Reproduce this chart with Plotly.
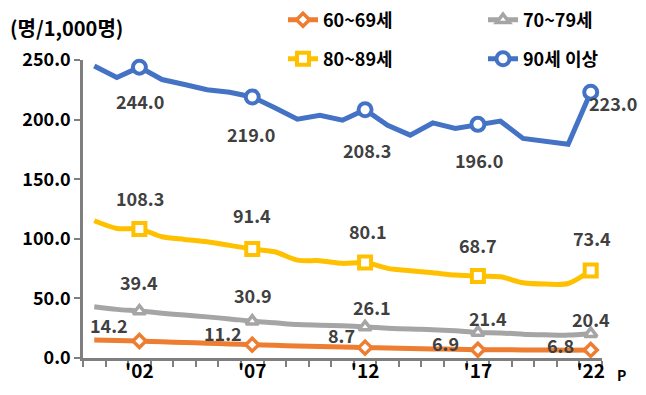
import plotly.graph_objects as go

# 연령대별 사망률 (명/1,000명), 2000~2022
years = list(range(2000, 2023))
label_years = [2002, 2007, 2012, 2017, 2022]
tick_labels = ["'02", "'07", "'12", "'17", "'22"]

age_60s = [15.1, 14.6, 14.2, 13.6, 13.0, 12.4, 11.8, 11.2, 10.6, 10.1, 9.6, 9.2,
           8.7, 8.3, 7.9, 7.6, 7.3, 6.9, 6.9, 6.8, 6.7, 6.6, 6.8]
age_70s = [43.0, 40.8, 39.4, 37.6, 36.0, 34.5, 32.8, 30.9, 29.5, 28.0, 27.5, 27.0,
           26.1, 25.0, 24.3, 23.8, 22.8, 21.4, 21.0, 20.0, 19.5, 19.2, 20.4]
age_80s = [115.1, 108.7, 108.3, 101.7, 99.5, 97.5, 94.5, 91.4, 89.1, 82.1, 81.6, 79.4,
           80.1, 75.2, 73.2, 71.5, 69.6, 68.7, 68.2, 63.1, 62.0, 62.5, 73.4]
age_90s = [245.0, 235.3, 244.0, 233.6, 229.5, 225.0, 223.0, 219.0, 210.0, 200.3, 203.7, 199.5,
           208.3, 195.3, 187.0, 197.2, 192.5, 196.0, 198.7, 184.2, 181.3, 179.4, 223.0]

names = ["60~69세", "70~79세", "80~89세", "90세 이상"]
series = [age_60s, age_70s, age_80s, age_90s]
colors = ["#ED7D31", "#A5A5A5", "#FFC000", "#4472C4"]
symbols = ["diamond", "triangle-up", "square", "circle"]
msizes = [10, 11, 12, 13]
mlines = [3.5, 3.5, 4, 4]
shapes = ["spline", "spline", "spline", "linear"]
legends = ["legend", "legend2", "legend3", "legend4"]
# px (screen): left edge, row centre
legend_pos = [(283, 20), (483, 20), (283, 59), (483, 59)]
# label offsets (px) per labelled point
offsets = [
    [(-30, 16), (-29, 12), (-24, 13), (-32, 7), (-30, 5)],
    [(0, 29), (1, 26), (7, 20), (10, 14), (0, 15)],
    [(1, 31), (0, 34), (3, 32), (0, 31), (1, 33)],
    [(1, -34), (-1, -37), (2, -40), (1, -36), (22, -11)],
]

# page body has an 8px margin, so the figure sits at (8, 8) on screen
OFF = 8
W, H = 646, 395
plot_left, plot_right, plot_top, plot_bottom = 83, 602, 60, 358  # screen px
L = plot_left - OFF
R = W - (plot_right - OFF)
T = plot_top - OFF
B = H - (plot_bottom - OFF)
plot_w, plot_h = W - L - R, H - T - B


def px_x(p):
    return (p - plot_left) / plot_w


def px_y(p):
    return (plot_bottom - p) / plot_h


font = dict(family="Noto Sans CJK KR", weight="bold")

fig = go.Figure()
annotations = []
for name, vals, col, sym, ms, ml, shp, lg, offs in zip(
        names, series, colors, symbols, msizes, mlines, shapes, legends, offsets):
    fig.add_trace(go.Scatter(x=years, y=vals, mode="lines", showlegend=False,
                             line=dict(color=col, width=5, shape=shp, smoothing=0.8)))
    ly = [vals[years.index(y)] for y in label_years]
    fig.add_trace(go.Scatter(x=label_years, y=ly, mode="markers", showlegend=False,
                             cliponaxis=False,
                             marker=dict(symbol=sym, size=ms, color="white",
                                         line=dict(color=col, width=ml))))
    fig.add_trace(go.Scatter(x=[None], y=[None], mode="lines+markers", name=name,
                             legend=lg,
                             line=dict(color=col, width=5),
                             marker=dict(symbol=sym, size=ms, color="white",
                                         line=dict(color=col, width=ml))))
    for yr, v, (dx, dy) in zip(label_years, ly, offs):
        annotations.append(dict(x=yr, y=v, text=f"{v:.1f}", showarrow=False,
                                xshift=dx, yshift=dy,
                                font=dict(font, size=18, color="#404040")))

# invisible trace so the label axis is drawn
fig.add_trace(go.Scatter(x=years, y=age_60s, xaxis="x2", mode="lines",
                         line=dict(width=0), opacity=0, showlegend=False,
                         hoverinfo="skip"))

annotations.append(dict(x=0, y=px_y(27), xref="paper", yref="paper", xanchor="left",
                        yanchor="middle", text="(명/1,000명)", showarrow=False,
                        xshift=8 - plot_left, font=dict(font, size=20, color="black")))
annotations.append(dict(x=2022, y=0, text="P", showarrow=False, xshift=31, yshift=-17,
                        font=dict(font, size=14, color="black")))

boundaries = [y - 0.5 for y in years] + [years[-1] + 0.5]
xr = [boundaries[0], boundaries[-1]]

legend_layout = {}
for lg, (lx, lyp) in zip(legends, legend_pos):
    legend_layout[lg] = dict(orientation="h", x=px_x(lx), y=px_y(lyp),
                             xanchor="left", yanchor="middle",
                             bgcolor="rgba(0,0,0,0)",
                             font=dict(font, size=18, color="black"))

fig.update_layout(
    width=W, height=H,
    margin=dict(l=L, r=R, t=T, b=B, autoexpand=False),
    plot_bgcolor="white", paper_bgcolor="white",
    annotations=annotations,
    xaxis=dict(range=xr, tickvals=boundaries,
               ticktext=[""] * len(boundaries),
               ticks="outside", ticklen=6, tickcolor="#7F7F7F", tickwidth=2,
               showgrid=False, zeroline=False,
               showline=True, linecolor="#7F7F7F", linewidth=2.5),
    xaxis2=dict(range=xr, overlaying="x", anchor="y", side="bottom",
                tickvals=label_years, ticktext=tick_labels, ticks="",
                showgrid=False, zeroline=False, showline=False,
                tickfont=dict(font, size=19, color="black")),
    yaxis=dict(range=[0, 250],
               tickvals=[0, 50, 100, 150, 200, 250], tickformat=".1f",
               ticks="outside", ticklen=6, tickcolor="#7F7F7F", tickwidth=2,
               showgrid=False, zeroline=False,
               showline=True, linecolor="#7F7F7F", linewidth=2.5,
               tickfont=dict(font, size=18, color="black")),
    **legend_layout,
)

fig.write_html("out.html")
